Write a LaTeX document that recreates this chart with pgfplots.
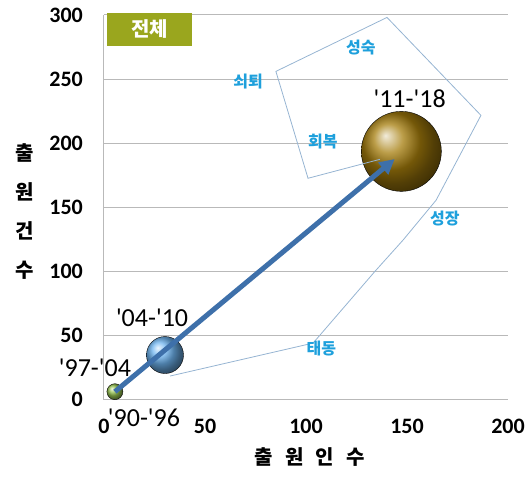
\documentclass[border=0pt]{standalone}
\usepackage{fontspec}
\usepackage{pgfplots}
\pgfplotsset{compat=1.18}
\usetikzlibrary{arrows.meta}
\setmainfont{Carlito}
\newfontfamily\kr{Noto Sans CJK KR}

\definecolor{boxolive}{RGB}{154,166,30}
\definecolor{stageblue}{RGB}{30,160,220}
\definecolor{arrowblue}{RGB}{62,112,170}
\definecolor{pathblue}{RGB}{150,180,210}
\definecolor{gridgray}{RGB}{185,185,185}
\newcommand\q{\textquotesingle}

\begin{document}
\begin{tikzpicture}
\begin{axis}[
  scale only axis, width=404bp, height=384.5bp,
  at={(0,0)}, anchor=south west,
  xmin=0, xmax=200, ymin=0, ymax=300,
  xtick={0,50,...,200}, ytick={0,50,...,300},
  axis x line*=bottom, axis y line*=left,
  axis line style={-, draw=gridgray, line width=1bp},
  ymajorgrids, major grid style={draw=gridgray, line width=1bp},
  tick style={draw=none},
  clip=false, clip marker paths=true,
  /pgf/number format/assume math mode=true,
  ticklabel style={font=\bfseries\fontsize{22bp}{22bp}\selectfont, inner sep=0pt},
  xticklabel style={anchor=center, yshift=-27bp},
  yticklabel style={anchor=east},
  yticklabel shift=21bp,
  xlabel={출\hspace{0.6em}원\hspace{0.6em}인\hspace{0.6em}수},
  xlabel style={at={(axis description cs:0.509,0)}, anchor=center, yshift=-57.5bp,
    font=\kr\bfseries\fontsize{20bp}{20bp}\selectfont},
  ylabel={출\\원\\건\\수},
  ylabel style={rotate=-90, at={(axis description cs:0,0.489)}, anchor=center,
    xshift=-79bp, align=center, inner sep=0pt,
    font=\kr\bfseries\fontsize{20bp}{39bp}\selectfont},
]

% bubbles: one ball per period, sized by volume
\addplot[only marks, mark=ball, mark size=8bp, mark options={ball color={rgb,255:red,150;green,195;blue,80}}]
  coordinates {(5.4,6.1)};
\addplot[only marks, mark=ball, mark size=18.5bp, mark options={ball color={rgb,255:red,110;green,180;blue,240}}]
  coordinates {(30.2,34.7)};
\addplot[only marks, mark=ball, mark size=40bp, mark options={ball color={rgb,255:red,165;green,125;blue,12}}]
  coordinates {(147.2,193.6)};

% life-cycle path: emergence -> growth -> maturity -> decline -> recovery
\addplot[pathblue, line width=0.8bp] coordinates {
  (32.7,18.3) (103.5,44.0) (134.2,100.1) (148.0,124.3) (164.4,155.5)
  (186.6,221.7) (140.1,298.1) (85.1,256.0) (101.0,172.6) (136.6,187.4)};

% trend arrow
\addplot[arrowblue, line width=5bp, -{Triangle[length=15bp, width=15bp]}]
  coordinates {(5.4,6.1) (143.9,187.6)};

% period labels
\begin{scope}[every node/.style={font=\fontsize{26bp}{26bp}\selectfont, inner sep=0pt}]
  \node at (axis cs:151.3,235.0) {\q11-\q18};
  \node at (axis cs:23.8,63.6) {\q04-\q10};
  \node at (axis cs:-4.5,24.6) {\q97-\q04};
  \node at (axis cs:19.8,-14.4) {\q90-\q96};
\end{scope}

% stage labels
\begin{scope}[every node/.style={font=\kr\bfseries\fontsize{16bp}{16bp}\selectfont, text=stageblue, inner sep=0pt}]
  \node at (axis cs:127.2,274.5) {성숙};
  \node at (axis cs:71.3,247.9) {쇠퇴};
  \node at (axis cs:108.4,201.1) {회복};
  \node at (axis cs:168.7,141.4) {성장};
  \node at (axis cs:107.6,39.9) {태동};
\end{scope}

% panel tag
\node[fill=boxolive, text=white, minimum width=85bp, minimum height=33bp, inner sep=0pt,
  font=\kr\bfseries\fontsize{20bp}{20bp}\selectfont]
  at (rel axis cs:0,1) [xshift=45.5bp, yshift=-14.4bp] {전체};
\end{axis}
\pgfresetboundingbox
\path[use as bounding box] (-104bp,-78.5bp) rectangle (422bp,399.5bp);
\end{tikzpicture}
\end{document}
